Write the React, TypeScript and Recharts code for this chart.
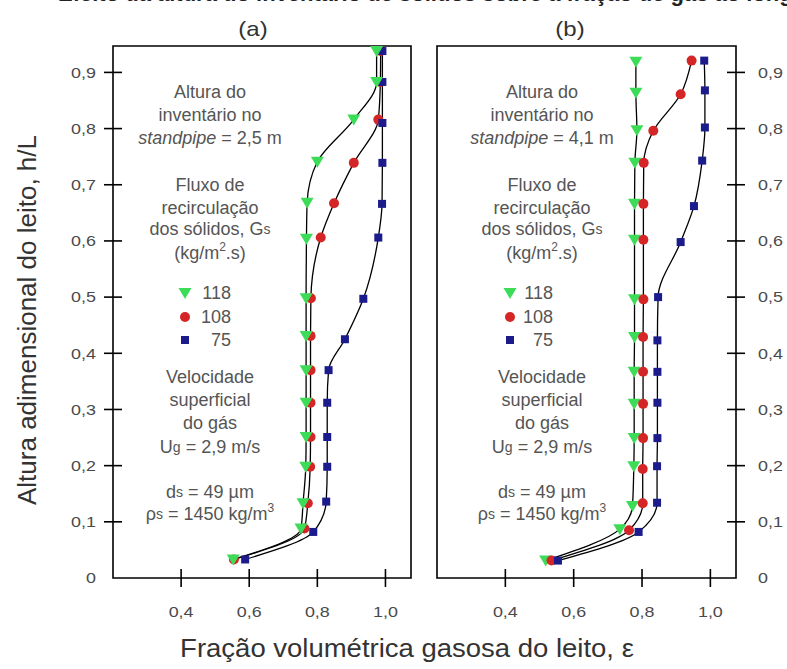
import React from 'react';
import { LineChart, Line, XAxis, YAxis, ReferenceArea } from 'recharts';

// ---------- data ----------
// Panel (a): standpipe inventory height = 2,5 m
const hA118 = [0.033, 0.088, 0.133, 0.198, 0.251, 0.312, 0.370, 0.431, 0.498, 0.604, 0.668, 0.741, 0.816, 0.883, 0.938];
const epsA118 = [0.553, 0.752, 0.758, 0.766, 0.767, 0.767, 0.767, 0.767, 0.767, 0.768, 0.770, 0.800, 0.907, 0.974, 0.974];
const hA108 = [0.033, 0.088, 0.133, 0.198, 0.251, 0.312, 0.370, 0.431, 0.498, 0.606, 0.667, 0.739, 0.816, 0.883, 0.938];
const epsA108 = [0.555, 0.762, 0.772, 0.779, 0.780, 0.780, 0.780, 0.780, 0.781, 0.810, 0.849, 0.907, 0.979, 0.985, 0.986];
const hA75 = [0.033, 0.082, 0.136, 0.198, 0.251, 0.312, 0.370, 0.425, 0.497, 0.606, 0.666, 0.739, 0.810, 0.883, 0.938];
const epsA75 = [0.588, 0.788, 0.826, 0.829, 0.829, 0.829, 0.833, 0.881, 0.935, 0.979, 0.990, 0.991, 0.991, 0.991, 0.991];

// Panel (b): standpipe inventory height = 4,1 m
const hB118 = [0.031, 0.087, 0.128, 0.199, 0.249, 0.310, 0.367, 0.429, 0.496, 0.602, 0.666, 0.739, 0.797, 0.864, 0.919];
const epsB118 = [0.518, 0.735, 0.772, 0.776, 0.777, 0.777, 0.777, 0.778, 0.778, 0.778, 0.778, 0.779, 0.785, 0.782, 0.782];
const hB108 = [0.031, 0.085, 0.133, 0.194, 0.249, 0.310, 0.367, 0.429, 0.496, 0.602, 0.666, 0.739, 0.796, 0.861, 0.921];
const epsB108 = [0.535, 0.762, 0.802, 0.802, 0.803, 0.803, 0.803, 0.803, 0.804, 0.804, 0.804, 0.805, 0.833, 0.913, 0.945];
const hB75 = [0.031, 0.082, 0.134, 0.199, 0.249, 0.312, 0.367, 0.423, 0.500, 0.598, 0.662, 0.743, 0.802, 0.868, 0.921];
const epsB75 = [0.554, 0.790, 0.844, 0.844, 0.845, 0.845, 0.845, 0.845, 0.847, 0.913, 0.952, 0.976, 0.984, 0.984, 0.982];

const seriesNames = ['118', '108', '75'];
const inventoryA = '2,5 m';
const inventoryB = '4,1 m';

const xTicks = [0.4, 0.6, 0.8, 1.0];
const yTicks = [0, 0.1, 0.2, 0.3, 0.4, 0.5, 0.6, 0.7, 0.8, 0.9];
const xDomain: [number, number] = [0.2, 1.075];
const yDomain: [number, number] = [0, 0.947];

const toRows = (h: number[], eps: number[]) => h.map((v, i) => ({ h: v, eps: eps[i] }));

// ---------- styles ----------
const GREEN = '#3ddc58';
const RED = '#d42626';
const NAVY = '#1b1b8c';
const TEXT = '#555';
const TICK = '#4a4a4a';
const FONT = '"Liberation Sans", Arial, sans-serif';

const fmt = (v: number) => (v === 0 ? '0' : v.toFixed(1).replace('.', ','));

// ---------- markers ----------
const Tri = ({ cx, cy, fill = GREEN, s = 1 }: any) => (
  <polygon points={`${cx - 6.5 * s},${cy - 5 * s} ${cx + 6.5 * s},${cy - 5 * s} ${cx},${cy + 6 * s}`} fill={fill} />
);
const Dot = ({ cx, cy, fill = RED, s = 1 }: any) => <circle cx={cx} cy={cy} r={5 * s} fill={fill} />;
const Sq = ({ cx, cy, fill = NAVY, s = 1 }: any) => (
  <rect x={cx - 4 * s} y={cy - 4 * s} width={8 * s} height={8 * s} fill={fill} />
);

const triDot = (p: any) => <Tri key={`t${p.index}`} cx={p.cx} cy={p.cy} />;
const circDot = (p: any) => <Dot key={`c${p.index}`} cx={p.cx} cy={p.cy} />;
const sqDot = (p: any) => <Sq key={`s${p.index}`} cx={p.cx} cy={p.cy} />;

// ---------- ticks ----------
const LeftTick = ({ x, y, payload }: any) => (
  <g>
    {payload.value !== 0 && <line x1={x - 9} x2={x + 9} y1={y} y2={y} stroke="#000" strokeWidth={1.6} />}
    <text
      transform={`translate(${x - 17},${y}) scale(1.28,1)`}
      textAnchor="end"
      dominantBaseline="central"
      fontSize={14}
      fontFamily={FONT}
      fill={TICK}
    >
      {fmt(payload.value)}
    </text>
  </g>
);

const RightTick = ({ x, y, payload }: any) => (
  <g>
    {payload.value !== 0 && <line x1={x - 9} x2={x + 9} y1={y} y2={y} stroke="#000" strokeWidth={1.6} />}
    <text
      transform={`translate(${x + 22},${y}) scale(1.28,1)`}
      textAnchor="start"
      dominantBaseline="central"
      fontSize={14}
      fontFamily={FONT}
      fill={TICK}
    >
      {fmt(payload.value)}
    </text>
  </g>
);

const BottomTick = ({ x, y, payload }: any) => (
  <g>
    <line x1={x} x2={x} y1={y - 9} y2={y + 9} stroke="#000" strokeWidth={1.6} />
    <text
      transform={`translate(${x},${y + 34}) scale(1.28,1)`}
      textAnchor="middle"
      dominantBaseline="central"
      fontSize={14}
      fontFamily={FONT}
      fill={TICK}
    >
      {fmt(payload.value)}
    </text>
  </g>
);

// ---------- annotation block ----------
const Annotation = ({ cx, inventory, markerX, textRight }: any) => {
  const common = { x: cx, textAnchor: 'middle' as const, dominantBaseline: 'central' as const, fontSize: 18, fill: TEXT, fontFamily: FONT };
  return (
    <g>
      <text {...common} y={92}>Altura do</text>
      <text {...common} y={115}>inventário no</text>
      <text {...common} y={138}>
        <tspan fontStyle="italic">standpipe</tspan>
        <tspan>{`  = ${inventory}`}</tspan>
      </text>
      <text {...common} y={185}>Fluxo de</text>
      <text {...common} y={208}>recirculação</text>
      <text {...common} y={229}>
        dos sólidos, G<tspan fontSize={14}>s</tspan>
      </text>
      <text {...common} y={253}>
        (kg/m<tspan fontSize={12} dy={-6}>2</tspan>
        <tspan dy={6}>.s)</tspan>
      </text>

      <Tri cx={markerX} cy={293} />
      <Dot cx={markerX} cy={317} />
      <Sq cx={markerX} cy={340} />
      <text x={textRight} y={293} textAnchor="end" dominantBaseline="central" fontSize={18} fill={TEXT} fontFamily={FONT}>{seriesNames[0]}</text>
      <text x={textRight} y={317} textAnchor="end" dominantBaseline="central" fontSize={18} fill={TEXT} fontFamily={FONT}>{seriesNames[1]}</text>
      <text x={textRight} y={340} textAnchor="end" dominantBaseline="central" fontSize={18} fill={TEXT} fontFamily={FONT}>{seriesNames[2]}</text>

      <text {...common} y={377}>Velocidade</text>
      <text {...common} y={400}>superficial</text>
      <text {...common} y={423}>do gás</text>
      <text {...common} y={447}>
        U<tspan fontSize={14}>g</tspan> = 2,9 m/s
      </text>
      <text {...common} y={492}>
        d<tspan fontSize={14}>s</tspan> = 49 µm
      </text>
      <text {...common} y={514}>
        ρ<tspan fontSize={14}>s</tspan> = 1450 kg/m<tspan fontSize={12} dy={-6}>3</tspan>
      </text>
    </g>
  );
};

const lineProps = { type: 'monotone' as const, stroke: '#000', strokeWidth: 1.3, isAnimationActive: false, activeDot: false as const };

export default function App() {
  return (
    <div style={{ position: 'absolute', left: 0, top: 0, width: 787, height: 669, background: '#fff', overflow: 'hidden', fontFamily: FONT }}>
      {/* Panel (a) */}
      <div style={{ position: 'absolute', left: 0, top: 0 }}>
        <LineChart width={420} height={669} layout="vertical" margin={{ top: 46, right: 9, bottom: 0, left: 0 }}>
          <XAxis
            type="number"
            dataKey="eps"
            domain={xDomain}
            ticks={xTicks}
            allowDataOverflow
            height={91}
            axisLine={false}
            tickLine={false}
            tickSize={0}
            tickMargin={0}
            tick={<BottomTick />}
            interval={0}
          />
          <YAxis
            type="number"
            dataKey="h"
            domain={yDomain}
            ticks={yTicks}
            allowDataOverflow
            reversed
            width={113}
            axisLine={false}
            tickLine={false}
            tickSize={0}
            tickMargin={0}
            tick={<LeftTick />}
            interval={0}
          />
          <ReferenceArea x1={xDomain[0]} x2={xDomain[1]} y1={yDomain[0]} y2={yDomain[1]} fill="none" stroke="#000" strokeWidth={1.6} ifOverflow="visible" />
          <Line {...lineProps} data={toRows(hA108, epsA108)} dataKey="eps" dot={circDot} />
          <Line {...lineProps} data={toRows(hA75, epsA75)} dataKey="eps" dot={sqDot} />
          <Line {...lineProps} data={toRows(hA118, epsA118)} dataKey="eps" dot={triDot} />
        </LineChart>
      </div>

      {/* Panel (b) */}
      <div style={{ position: 'absolute', left: 420, top: 0 }}>
        <LineChart width={367} height={669} layout="vertical" margin={{ top: 46, right: 0, bottom: 0, left: 17 }}>
          <XAxis
            type="number"
            dataKey="eps"
            domain={xDomain}
            ticks={xTicks}
            allowDataOverflow
            height={91}
            axisLine={false}
            tickLine={false}
            tickSize={0}
            tickMargin={0}
            tick={<BottomTick />}
            interval={0}
          />
          <YAxis
            type="number"
            dataKey="h"
            orientation="right"
            domain={yDomain}
            ticks={yTicks}
            allowDataOverflow
            reversed
            width={51}
            axisLine={false}
            tickLine={false}
            tickSize={0}
            tickMargin={0}
            tick={<RightTick />}
            interval={0}
          />
          <ReferenceArea x1={xDomain[0]} x2={xDomain[1]} y1={yDomain[0]} y2={yDomain[1]} fill="none" stroke="#000" strokeWidth={1.6} ifOverflow="visible" />
          <Line {...lineProps} data={toRows(hB118, epsB118)} dataKey="eps" dot={triDot} />
          <Line {...lineProps} data={toRows(hB108, epsB108)} dataKey="eps" dot={circDot} />
          <Line {...lineProps} data={toRows(hB75, epsB75)} dataKey="eps" dot={sqDot} />
        </LineChart>
      </div>

      {/* Titles and annotations */}
      <svg width={787} height={669} style={{ position: 'absolute', left: 0, top: 0, pointerEvents: 'none' }}>
        <text x={58} y={1} fontSize={22} fontWeight="bold" fill="#222" fontFamily={FONT}>
          Efeito da altura do inventário de sólidos sobre a fração de gás ao longo do leito
        </text>
        <text transform="translate(253,29) scale(1.2,1)" textAnchor="middle" dominantBaseline="central" fontSize={20} fill="#333" fontFamily={FONT}>(a)</text>
        <text transform="translate(570,29) scale(1.2,1)" textAnchor="middle" dominantBaseline="central" fontSize={20} fill="#333" fontFamily={FONT}>(b)</text>
        <text transform="translate(27,320) rotate(-90)" textAnchor="middle" dominantBaseline="central" fontSize={26} fill="#333" fontFamily={FONT}>
          Altura adimensional do leito, h/L
        </text>
        <text transform="translate(407,648) scale(1.1,1)" textAnchor="middle" dominantBaseline="central" fontSize={25} fill="#333" fontFamily={FONT}>
          Fração volumétrica gasosa do leito, ε
        </text>
        <Annotation cx={210} inventory={inventoryA} markerX={185} textRight={231} />
        <Annotation cx={542} inventory={inventoryB} markerX={510} textRight={553} />
      </svg>
    </div>
  );
}
